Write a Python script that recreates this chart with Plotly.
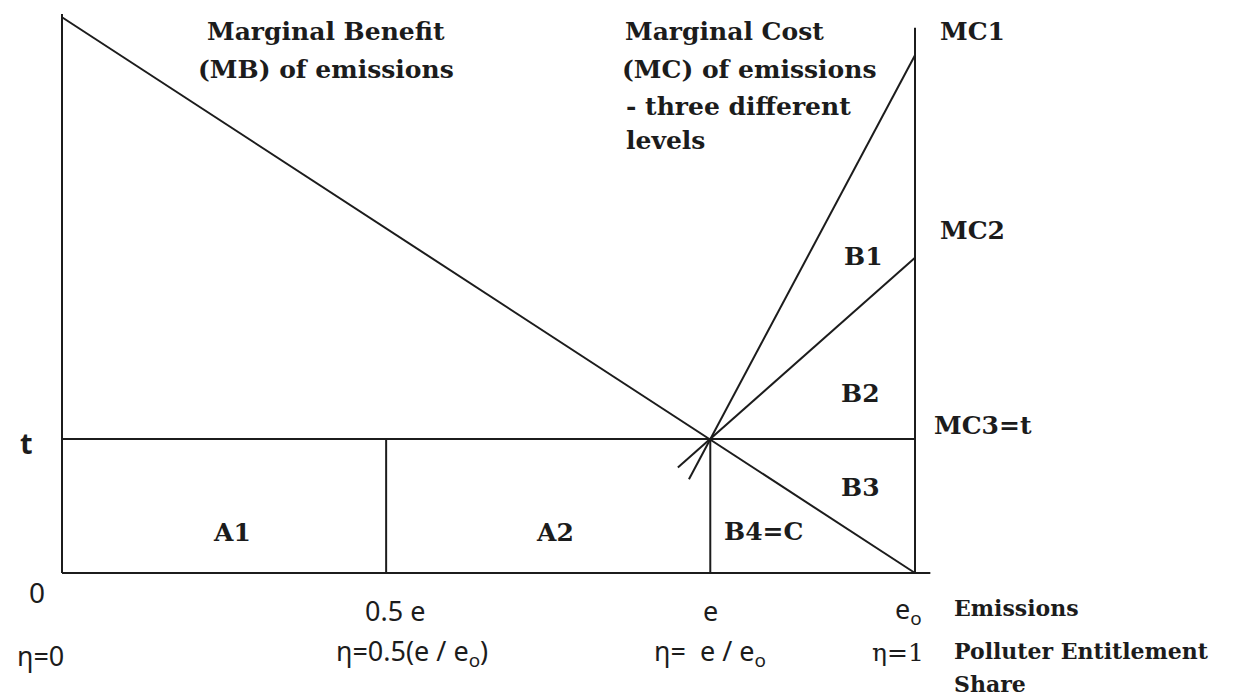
import plotly.graph_objects as go

# emissions scale: 0 .. e0 (e0 = 1), price scale: MB intercept ~ 1
e0 = 1.0
e_opt = 0.76
half_e = 0.38
t_level = 0.24

mb_x = [0.0, 1.0]
mb_y = [0.996, 0.0]
mc1_x = [0.735, 1.0]
mc1_y = [0.168, 0.928]
mc2_x = [0.722, 1.0]
mc2_y = [0.189, 0.565]
mc3_x = [0.0, 1.0]
mc3_y = [t_level, t_level]

y_axis_top = 1.002
x_axis_end = 1.018
e0_line_top = 0.977

W, H = 1234, 700
PAD = 8  # page body margin around the plot div
INK = '#1c1c1c'
SERIF = 'DejaVu Serif'
SANS = 'Noto Sans'

# pixel geometry of the drawing (inside the figure)
X0, PX_X = 62 - PAD, 853
Y0, PX_Y = 573 - PAD, 558


def seg(xs, ys):
    return go.Scatter(x=xs, y=ys, mode='lines', hoverinfo='skip',
                      line=dict(color=INK, width=2), showlegend=False)


fig = go.Figure()
fig.add_trace(seg([0, 0], [0, y_axis_top]))
fig.add_trace(seg([0, x_axis_end], [0, 0]))
fig.add_trace(seg([e0, e0], [0, e0_line_top]))
fig.add_trace(seg([half_e, half_e], [0, t_level]))
fig.add_trace(seg([e_opt, e_opt], [0, t_level]))
fig.add_trace(seg(mc3_x, mc3_y))
fig.add_trace(seg(mb_x, mb_y))
fig.add_trace(seg(mc1_x, mc1_y))
fig.add_trace(seg(mc2_x, mc2_y))


def label(text, px, py, size=25, family=SERIF, anchor='center', bold=True):
    if bold:
        text = '<b>' + text + '</b>'
    fig.add_annotation(text=text, x=(px - PAD) / W, y=1 - (py - PAD) / H,
                       xref='paper', yref='paper',
                       xanchor=anchor, yanchor='middle', showarrow=False,
                       font=dict(family=family, size=size, color=INK))


def tick(text, xval, py, size=27, family=SANS):
    fig.add_annotation(text=text, x=xval, y=1 - (py - PAD) / H, xref='x', yref='paper',
                       xanchor='center', yanchor='middle', showarrow=False,
                       font=dict(family=family, size=size, color=INK))


label('Marginal Benefit', 326, 32)
label('(MB) of emissions', 326, 70)
label('Marginal Cost', 623, 32, anchor='left')
label('(MC) of emissions', 620, 70, anchor='left')
label('- three different', 624, 106, anchor='left')
label('levels', 624, 140, anchor='left')
label('MC1', 938, 32, anchor='left')
label('MC2', 938, 231, anchor='left')
label('MC3=t', 932, 425, anchor='left')
label('B1', 863, 256)
label('B2', 860, 393)
label('B3', 860, 487)
label('B4=C', 722, 531, anchor='left')
label('A1', 232, 532)
label('A2', 555, 532)
label('t', 26, 442, size=29, family=SANS)
label('0', 37, 592, size=28, family=SANS, bold=False)

tick('0.5 e', half_e + 0.01, 610)
tick('e', e_opt, 610)
tick('e<sub>o</sub>', e0 - 0.008, 610)
tick('η=0.5(e / e<sub>o</sub>)', half_e + 0.03, 652)
tick('η=  e / e<sub>o</sub>', e_opt, 652)
label('η=0', 40, 655, size=27, family=SANS, bold=False)
label('η=1', 898, 652, size=25, bold=False)
label('Emissions', 952, 608, size=22, anchor='left')
label('Polluter Entitlement', 952, 651, size=22, anchor='left')
label('Share', 952, 684, size=22, anchor='left')

fig.update_layout(
    width=W, height=H,
    margin=dict(l=0, r=0, t=0, b=0),
    paper_bgcolor='white', plot_bgcolor='white',
    xaxis=dict(range=[-X0 / PX_X, (W - X0) / PX_X], visible=False, fixedrange=True),
    yaxis=dict(range=[-(H - Y0) / PX_Y, Y0 / PX_Y], visible=False, fixedrange=True),
    showlegend=False,
)

fig.write_html('out.html')
